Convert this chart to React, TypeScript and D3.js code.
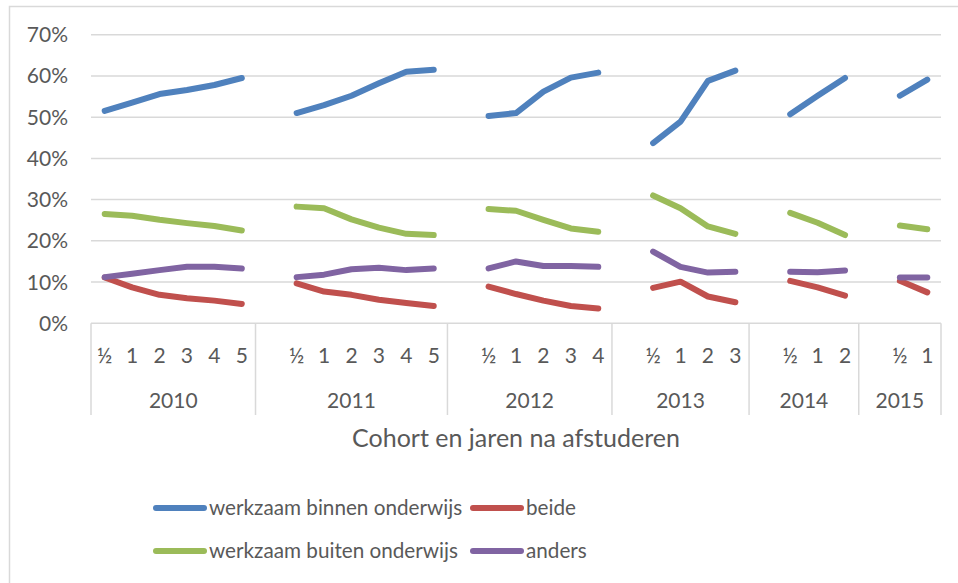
import React from "react";
import * as d3 from "d3";

// Category axis: groups (cohort) and their points (years after graduation)
const years = ["2010", "2011", "2012", "2013", "2014", "2015"];
const yearPoints = [
  ["½", "1", "2", "3", "4", "5"],
  ["½", "1", "2", "3", "4", "5"],
  ["½", "1", "2", "3", "4"],
  ["½", "1", "2", "3"],
  ["½", "1", "2"],
  ["½", "1"],
];

const seriesNames = [
  "werkzaam binnen onderwijs",
  "beide",
  "werkzaam buiten onderwijs",
  "anders",
];
const seriesColors = ["#4f81bd", "#c0504d", "#9bbb59", "#8064a2"];

// values per cohort (%)
const binnen = [
  [51.5, 53.5, 55.6, 56.6, 57.8, 59.5],
  [51.0, 52.9, 55.2, 58.2, 61.0, 61.5],
  [50.3, 51.0, 56.2, 59.6, 60.8],
  [43.7, 48.9, 58.8, 61.3],
  [50.7, 55.2, 59.5],
  [55.2, 59.1],
];
const beide = [
  [11.1, 8.7, 6.9, 6.1, 5.5, 4.7],
  [9.7, 7.7, 6.9, 5.7, 4.9, 4.2],
  [8.9, 7.1, 5.5, 4.2, 3.6],
  [8.6, 10.1, 6.5, 5.1],
  [10.3, 8.7, 6.7],
  [10.3, 7.5],
];
const buiten = [
  [26.5, 26.1, 25.1, 24.3, 23.6, 22.5],
  [28.3, 27.9, 25.2, 23.2, 21.7, 21.4],
  [27.7, 27.3, 25.1, 23.0, 22.2],
  [31.0, 27.9, 23.5, 21.7],
  [26.8, 24.4, 21.4],
  [23.7, 22.8],
];
const anders = [
  [11.2, 12.0, 12.9, 13.7, 13.7, 13.3],
  [11.2, 11.8, 13.1, 13.5, 12.9, 13.3],
  [13.3, 15.0, 13.9, 13.9, 13.7],
  [17.4, 13.7, 12.3, 12.5],
  [12.5, 12.4, 12.8],
  [11.1, 11.1],
];
const seriesData = [binnen, beide, buiten, anders];

const yTicks = [0, 10, 20, 30, 40, 50, 60, 70];
const axisTitle = "Cohort en jaren na afstuderen";

const FONT = "Lato, 'Open Sans', sans-serif";
const TEXT = "#595959";
const GRID = "#d9d9d9";

export default function App() {
  // Build flat category list; each cohort after the first starts with a blank slot
  const cats: { key: number; group: number; label: string; blank: boolean }[] = [];
  const groupStart: number[] = [];
  yearPoints.forEach((pts, g) => {
    groupStart.push(cats.length);
    if (g > 0) cats.push({ key: cats.length, group: g, label: "", blank: true });
    pts.forEach((p) => cats.push({ key: cats.length, group: g, label: p, blank: false }));
  });
  const pointIndex: number[][] = yearPoints.map((pts, g) =>
    pts.map((_, i) => groupStart[g] + (g > 0 ? 1 : 0) + i)
  );

  const left = 91;
  const right = 941;
  const top = 34.7;
  const bottom = 323.3;

  const x = d3
    .scaleBand<number>()
    .domain(cats.map((c) => c.key))
    .range([left, right])
    .padding(0);
  const bw = x.bandwidth();
  const cx = (i: number) => (x(i) as number) + bw / 2;
  const y = d3.scaleLinear().domain([0, 70]).range([bottom, top]);

  const line = d3
    .line<[number, number]>()
    .x((d) => cx(d[0]))
    .y((d) => y(d[1]));

  const axisBottom = 415;

  return (
    <svg width={958} height={583} style={{ position: "absolute", left: 0, top: 0 }}>
      <rect x={0} y={0} width={958} height={583} fill="#fff" />
      <rect x={9.5} y={6.5} width={960} height={590} fill="none" stroke={GRID} strokeWidth={1.5} />
      {/* gridlines */}
      {yTicks.map((t) => (
        <line key={t} x1={left} x2={right} y1={y(t)} y2={y(t)} stroke={GRID} strokeWidth={1.5} />
      ))}
      {yTicks.map((t) => (
        <text
          key={"l" + t}
          x={68}
          y={y(t)}
          dy="0.36em"
          textAnchor="end"
          fontFamily={FONT}
          fontSize={21}
          fill={TEXT}
        >
          {t}%
        </text>
      ))}
      {/* category separators */}
      {[...groupStart, cats.length].map((s, i) => {
        const xv = s === cats.length ? right : (x(s) as number);
        return (
          <line key={"s" + i} x1={xv} x2={xv} y1={bottom} y2={axisBottom} stroke={GRID} strokeWidth={1.5} />
        );
      })}
      {/* category labels */}
      {pointIndex.map((idxs, g) =>
        idxs.map((ci, i) => (
          <text
            key={"c" + g + "-" + i}
            x={cx(ci)}
            y={355}
            dy="0.36em"
            textAnchor="middle"
            fontFamily={FONT}
            fontSize={21}
            fill={TEXT}
          >
            {yearPoints[g][i]}
          </text>
        ))
      )}
      {years.map((yr, g) => {
        const x0 = x(groupStart[g]) as number;
        const x1 = g === years.length - 1 ? right : (x(groupStart[g + 1]) as number);
        return (
          <text
            key={"y" + g}
            x={(x0 + x1) / 2}
            y={400}
            dy="0.36em"
            textAnchor="middle"
            fontFamily={FONT}
            fontSize={21}
            fill={TEXT}
          >
            {yr}
          </text>
        );
      })}
      <text
        x={(left + right) / 2}
        y={438}
        dy="0.36em"
        textAnchor="middle"
        fontFamily={FONT}
        fontSize={25}
        fill={TEXT}
      >
        {axisTitle}
      </text>
      {/* series lines */}
      {seriesData.map((s, si) =>
        s.map((vals, g) => (
          <path
            key={"p" + si + "-" + g}
            d={line(vals.map((v, i) => [pointIndex[g][i], v] as [number, number])) || ""}
            fill="none"
            stroke={seriesColors[si]}
            strokeWidth={6}
            strokeLinecap="round"
            strokeLinejoin="round"
          />
        ))
      )}
      {/* legend */}
      {[
        [0, 156, 508],
        [1, 473, 508],
        [2, 156, 551],
        [3, 473, 551],
      ].map(([si, lx, ly]) => (
        <g key={"lg" + si}>
          <line
            x1={lx}
            x2={lx + 48}
            y1={ly}
            y2={ly}
            stroke={seriesColors[si]}
            strokeWidth={6}
            strokeLinecap="round"
          />
          <text x={lx + 53} y={ly} dy="0.36em" fontFamily={FONT} fontSize={20.7} fill={TEXT}>
            {seriesNames[si]}
          </text>
        </g>
      ))}
    </svg>
  );
}
